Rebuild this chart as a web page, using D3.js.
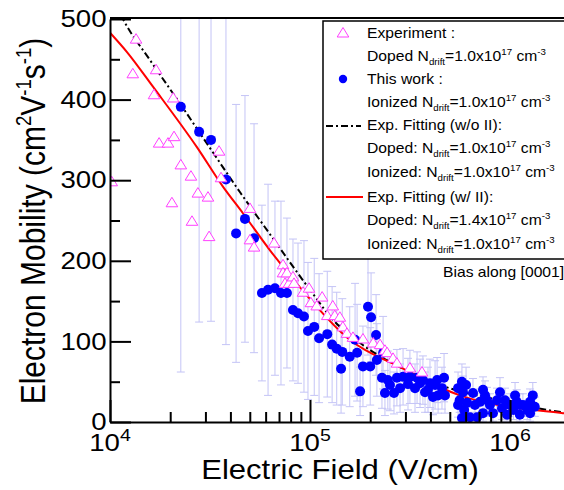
<!DOCTYPE html>
<html>
<head>
  <meta charset="utf-8">
  <title>Electron mobility vs electric field</title>
  <script src="https://d3js.org/d3.v7.min.js"></script>
  <style>
    body { margin: 0; background: #fff; }
    svg { display: block; font-family: "Liberation Sans", Arial, sans-serif; }
  </style>
</head>
<body>
<script type="text/javascript">

// ****** DATA ******

  // open triangles: experiment, doped N_drift = 1.0e17
  var expField = [1.02e4, 1.30e4, 1.35e4, 1.66e4, 1.70e4, 1.76e4, 1.95e4, 2.04e4, 2.07e4, 2.09e4,
                  2.26e4, 2.54e4, 2.57e4, 2.75e4, 3.09e4, 3.13e4, 3.51e4, 3.59e4, 5.01e4, 5.01e4,
                  5.25e4, 6.61e4, 7.33e4, 7.33e4, 7.50e4, 7.67e4, 7.85e4, 8.22e4, 8.32e4, 9.23e4,
                  9.89e4, 1.01e5, 1.08e5, 1.15e5, 1.22e5, 1.30e5, 1.33e5, 1.41e5, 1.46e5, 1.53e5,
                  1.64e5, 1.84e5, 2.07e5, 2.24e5, 2.37e5, 2.43e5, 2.60e5, 2.72e5, 3.16e5, 3.63e5];
  var expMobility = [298, 432, 475, 406, 437, 346, 346, 272, 402, 354,
                     319, 305, 249, 284, 279, 230, 336, 303, 265, 226,
                     217, 222, 195, 185, 172, 185, 172, 180, 172, 161,
                     166, 148, 144, 155, 132, 144, 132, 130, 118, 110,
                     105, 103, 98, 96, 89, 86, 79, 73, 67, 62];

  // filled dots: this work, ionized N_drift = 1.0e17, with error bars
  var workField = [2.26e4, 2.79e4, 3.20e4, 3.80e4, 4.27e4, 4.73e4, 5.25e4, 5.75e4, 6.17e4, 6.68e4,
                   7.16e4, 7.67e4, 8.22e4, 8.71e4, 9.33e4, 9.77e4, 1.05e5, 1.11e5, 1.22e5, 1.29e5,
                   1.36e5, 1.43e5, 1.45e5, 1.58e5, 1.68e5, 1.72e5, 1.78e5, 1.84e5, 1.95e5, 2.00e5,
                   2.02e5, 2.14e5, 2.16e5, 2.29e5, 2.32e5, 2.37e5, 2.45e5, 2.51e5, 2.63e5, 2.72e5,
                   2.82e5, 2.92e5, 3.09e5, 3.16e5, 3.35e5, 3.43e5, 3.55e5, 3.67e5, 3.76e5, 3.89e5,
                   3.98e5, 4.12e5, 4.22e5, 4.32e5, 4.37e5, 4.57e5, 4.68e5, 4.73e5, 5.50e5, 5.50e5,
                   5.60e5, 5.75e5, 5.75e5, 5.82e5, 5.90e5, 6.03e5, 6.10e5, 6.31e5, 6.53e5, 6.68e5,
                   6.84e5, 7.08e5, 7.33e5, 7.33e5, 7.50e5, 7.67e5, 7.94e5, 8.22e5, 8.61e5, 8.91e5,
                   9.12e5, 9.44e5, 9.66e5, 1.00e6, 1.04e6, 1.06e6, 1.08e6, 1.12e6, 1.12e6, 1.16e6,
                   1.22e6, 1.26e6, 1.26e6, 1.30e6, 1.33e6];
  var workMobility = [391, 360, 350, 301, 234, 252, 228, 160, 164, 166,
                      160, 160, 139, 135, 131, 113, 118, 104, 109, 96,
                      91, 66, 87, 81, 102, 86, 38, 69, 143, 69,
                      130, 108, 77, 55, 86, 36, 52, 46, 36, 55,
                      42, 56, 47, 56, 42, 55, 48, 52, 37, 40,
                      48, 31, 46, 52, 33, 42, 55, 33, 42, 21,
                      27, 50, 5, 37, 15, 46, 24, 6, 36, 21,
                      6, 25, 40, 11, 33, 27, 21, 11, 27, 37,
                      17, 27, 9, 21, 15, 33, 25, 9, 21, 21,
                      15, 25, 11, 33, 19];
  var workError = [329, 236, 225, 205, 160, 153, 142, 109, 131, 108,
                   114, 93, 88, 87, 94, 85, 85, 80, 78, 72,
                   70, 55, 66, 62, 70, 60, 30, 50, 60, 48,
                   55, 50, 45, 38, 45, 28, 36, 32, 26, 35,
                   30, 35, 32, 33, 30, 32, 30, 30, 25, 28,
                   30, 22, 30, 28, 22, 26, 30, 22, 20, 15,
                   15, 22, 5, 20, 12, 22, 18, 6, 18, 14,
                   6, 16, 16, 10, 18, 16, 14, 10, 15, 18,
                   14, 15, 8, 14, 12, 16, 15, 8, 14, 14,
                   12, 16, 10, 16, 12];

  // fitting curves
  var fitNoIIField = [1.05e4, 1.16e4, 1.585e4, 2.24e4, 3.16e4, 4.47e4, 6.1e4, 1e5, 1.3e5, 1.78e5, 2.82e5, 4.84e5, 8.9e5, 1.84e6, 2e6];
  var fitNoIIMobility = [522, 500, 449, 395, 340, 285, 238, 164, 127, 98, 68, 43, 27, 12, 11];
  var fitIIField = [1e4, 1.216e4, 1.64e4, 2.72e4, 3.67e4, 4.62e4, 6.31e4, 8.91e4, 1.58e5, 2.82e5, 5.62e5, 1.84e6, 2e6];
  var fitIIMobility = [483, 459, 416, 341, 292, 259, 213, 167, 102, 68, 33, 11, 10];

  var yMajorTicks = [0, 100, 200, 300, 400, 500],
      yMinorTicks = [50, 150, 250, 350, 450],
      xDecades = [1e4, 1e5, 1e6],
      xDecadeExps = ["4", "5", "6"],
      xMinorSteps = [2, 3, 4, 5, 6, 7, 8, 9];

  var legendRows = [
    "Experiment :",
    "Doped N_{drift}=1.0x10^{17} cm^{-3}",
    "This work :",
    "Ionized N_{drift}=1.0x10^{17} cm^{-3}",
    "Exp. Fitting (w/o II):",
    "Doped: N_{drift}=1.0x10^{17} cm^{-3}",
    "Ionized: N_{drift}=1.0x10^{17} cm^{-3}",
    "Exp. Fitting (w/ II):",
    "Doped: N_{drift}=1.4x10^{17} cm^{-3}",
    "Ionized: N_{drift}=1.0x10^{17} cm^{-3}"
  ];
  var legendBaselines = [38, 61, 84, 107, 130, 153, 177, 202, 225, 249];


// ****** LAYOUT ******

  var width = 564, height = 490;
  var plotLeft = 110, plotTop = 19, plotBottom = 422;
  var plotRight = plotLeft + 200 * Math.log10(200);   // 2e6, runs past the window edge
  var stretch = 1.15;   // the source text is a bit wide

  var x = d3.scaleLog().domain([1e4, 2e6]).range([plotLeft, plotRight]);
  var y = d3.scaleLinear().domain([0, 500]).range([plotBottom, plotTop]);

  var svg = d3.select("body").append("svg")
    .attr("width", width)
    .attr("height", height);

  svg.append("defs").append("clipPath").attr("id", "plot-clip")
    .append("rect")
    .attr("x", plotLeft).attr("y", plotTop)
    .attr("width", plotRight - plotLeft).attr("height", plotBottom - plotTop);

  // writes "a_{sub}b^{sup}" as tspans
  function richText(sel, str, size) {
    var parts = str.split(/(_\{[^}]*\}|\^\{[^}]*\})/).filter(function (p) { return p !== ""; });
    var shift = 0;
    parts.forEach(function (p) {
      var t = sel.append("tspan");
      var target = 0, fs = size, txt = p;
      if (p.indexOf("_{") === 0) { target = size * 0.3; fs = size * 0.62; txt = p.slice(2, -1); }
      else if (p.indexOf("^{") === 0) { target = -size * 0.42; fs = size * 0.62; txt = p.slice(2, -1); }
      t.attr("dy", target - shift).style("font-size", fs + "px").text(txt);
      shift = target;
    });
    return sel;
  }

  function wideText(px, py, extra, sx) {
    return svg.append("g")
      .attr("transform", "translate(" + px + "," + py + ") scale(" + (sx || stretch) + ",1)" + (extra || ""))
      .append("text");
  }


// ****** DATA MARKS ******

  var plot = svg.append("g").attr("clip-path", "url(#plot-clip)");
  var work = d3.range(workField.length).map(function (i) {
    return { e: workField[i], m: workMobility[i], err: workError[i] };
  });

  // error bars
  var bars = plot.append("g")
    .attr("stroke", "#c4c4f6")
    .attr("stroke-width", 1)
    .selectAll("g").data(work).enter().append("g");
  bars.append("line")
    .attr("x1", function (d) { return x(d.e); }).attr("x2", function (d) { return x(d.e); })
    .attr("y1", function (d) { return y(d.m - d.err); })
    .attr("y2", function (d) { return y(d.m + d.err); });
  bars.append("line")
    .attr("x1", function (d) { return x(d.e) - 4; }).attr("x2", function (d) { return x(d.e) + 4; })
    .attr("y1", function (d) { return y(d.m - d.err); }).attr("y2", function (d) { return y(d.m - d.err); });
  bars.append("line")
    .attr("x1", function (d) { return x(d.e) - 4; }).attr("x2", function (d) { return x(d.e) + 4; })
    .attr("y1", function (d) { return y(d.m + d.err); }).attr("y2", function (d) { return y(d.m + d.err); });

  // fitting curves
  var line = d3.line()
    .x(function (d) { return x(d[0]); })
    .y(function (d) { return y(d[1]); })
    .curve(d3.curveMonotoneX);

  plot.append("path")
    .datum(d3.zip(fitNoIIField, fitNoIIMobility))
    .attr("d", line)
    .attr("fill", "none")
    .attr("stroke", "#000")
    .attr("stroke-width", 2)
    .attr("stroke-dasharray", "7,3,2,3");

  plot.append("path")
    .datum(d3.zip(fitIIField, fitIIMobility))
    .attr("d", line)
    .attr("fill", "none")
    .attr("stroke", "#ff0000")
    .attr("stroke-width", 2);

  // blue dots
  plot.append("g").selectAll("circle")
    .data(work).enter().append("circle")
    .attr("cx", function (d) { return x(d.e); })
    .attr("cy", function (d) { return y(d.m); })
    .attr("r", 5)
    .attr("fill", "#0000ff");

  // triangles
  var triPath = "M0,-5.5L5.8,4L-5.8,4Z";
  plot.append("g").selectAll("path")
    .data(d3.zip(expField, expMobility)).enter().append("path")
    .attr("d", triPath)
    .attr("transform", function (d) { return "translate(" + x(d[0]) + "," + y(d[1]) + ")"; })
    .attr("fill", "#fff")
    .attr("stroke", "#ff40ff")
    .attr("stroke-width", 1);


// ****** AXES ******

  var yAxis = svg.append("g")
    .attr("transform", "translate(" + plotLeft + ",0)")
    .call(d3.axisLeft(y).tickValues(yMajorTicks).tickSizeInner(-21).tickSizeOuter(0).tickPadding(3));
  yAxis.selectAll("text")
    .attr("transform", "scale(" + stretch + ",1)")
    .style("font-size", "24px")
    .attr("fill", "#000");

  svg.append("g")
    .attr("transform", "translate(" + plotLeft + ",0)")
    .call(d3.axisLeft(y).tickValues(yMinorTicks).tickSizeInner(-10).tickSizeOuter(0).tickFormat(""))
    .select(".domain").remove();

  var minorX = [];
  xDecades.forEach(function (dec) {
    xMinorSteps.forEach(function (s) { if (dec * s <= 2e6) minorX.push(dec * s); });
  });

  svg.append("g")
    .attr("transform", "translate(0," + plotBottom + ")")
    .call(d3.axisBottom(x).tickValues(xDecades).tickSizeInner(-22).tickSizeOuter(0).tickFormat(""));

  svg.append("g")
    .attr("transform", "translate(0," + plotBottom + ")")
    .call(d3.axisBottom(x).tickValues(minorX).tickSizeInner(-10).tickSizeOuter(0).tickFormat(""))
    .select(".domain").remove();

  svg.selectAll(".domain, .tick line")
    .attr("stroke", "#000")
    .attr("stroke-width", 2);

  // decade labels 10^n
  xDecades.forEach(function (dec, i) {
    var t = wideText(x(dec), 451).attr("text-anchor", "middle").style("font-size", "24px");
    richText(t, "10^{" + xDecadeExps[i] + "}", 24);
    t.selectAll("tspan").filter(function (d, j) { return j === 1; }).style("font-size", "17px");
  });

  // top frame
  svg.append("line")
    .attr("x1", plotLeft).attr("x2", plotRight)
    .attr("y1", plotTop - 1).attr("y2", plotTop - 1)
    .attr("stroke", "#000").attr("stroke-width", 2);

  // axis titles
  richText(wideText(45, 221, " rotate(-90)").attr("text-anchor", "middle").style("font-size", "30px"),
    "Electron Mobility (cm^{2}V^{-1}s^{-1})", 30);

  wideText(340, 479).attr("text-anchor", "middle").style("font-size", "27px")
    .text("Electric Field (V/cm)");


// ****** LEGEND ******

  svg.append("rect")
    .attr("x", 323).attr("y", 21)
    .attr("width", 270).attr("height", 238)
    .attr("fill", "#fff")
    .attr("stroke", "#000")
    .attr("stroke-width", 1.5);

  legendRows.forEach(function (row, i) {
    richText(wideText(367, legendBaselines[i], "", 1.12).style("font-size", "14px"), row, 14);
  });

  svg.append("path")
    .attr("d", triPath)
    .attr("transform", "translate(343,33)")
    .attr("fill", "#fff").attr("stroke", "#ff40ff").attr("stroke-width", 1);
  svg.append("circle")
    .attr("cx", 343).attr("cy", 79).attr("r", 4.2)
    .attr("fill", "#0000ff");
  svg.append("line")
    .attr("x1", 326).attr("x2", 361).attr("y1", 126).attr("y2", 126)
    .attr("stroke", "#000").attr("stroke-width", 2).attr("stroke-dasharray", "7,3,2,3");
  svg.append("line")
    .attr("x1", 326).attr("x2", 363).attr("y1", 197).attr("y2", 197)
    .attr("stroke", "#ff0000").attr("stroke-width", 2);

  wideText(443, 277, "", 1.12).style("font-size", "14px").text("Bias along [0001]");

</script>
</body>
</html>
